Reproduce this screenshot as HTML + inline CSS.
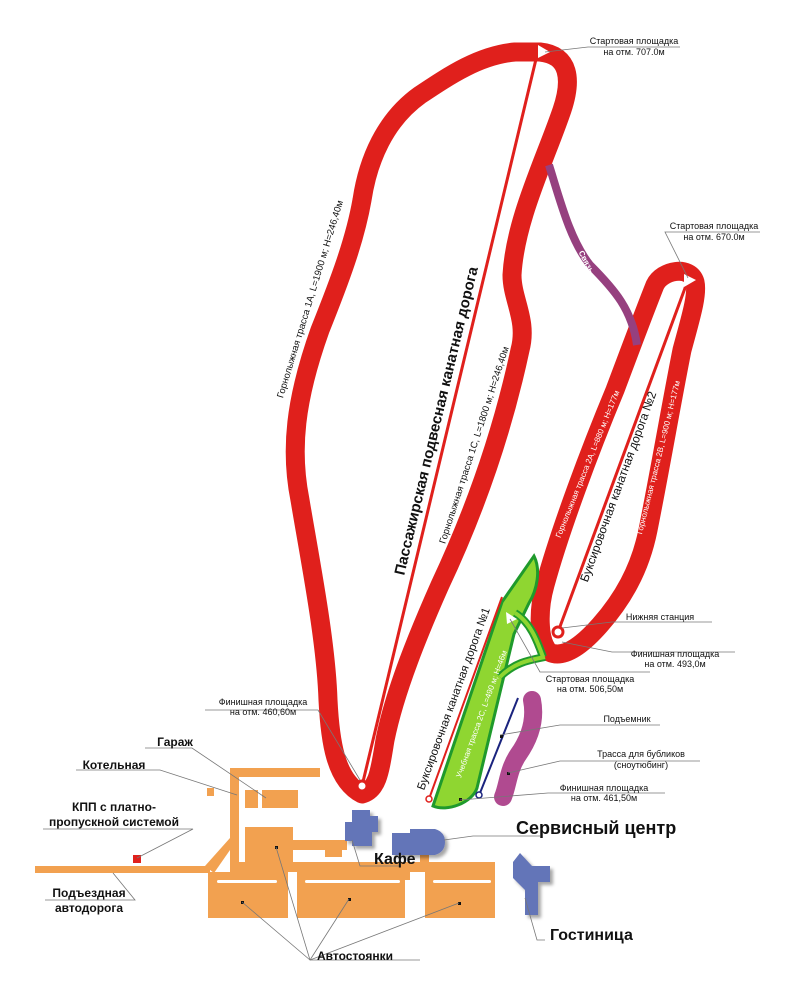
<!DOCTYPE html>
<html><head><meta charset="utf-8"><style>
body{margin:0;background:#fff}
svg{display:block}
text{font-family:"Liberation Sans",sans-serif;fill:#111}
</style></head><body>
<svg width="806" height="1000" viewBox="0 0 806 1000" xmlns="http://www.w3.org/2000/svg">
<defs><filter id="sh" x="-20%" y="-20%" width="150%" height="150%"><feDropShadow dx="3" dy="3" stdDeviation="1.5" flood-color="#000" flood-opacity="0.35"/></filter></defs>
<g fill="#f2a150">
<rect x="35" y="866" width="175" height="7"/>
<polygon points="205,866 230,838 230,850 214,873"/>
<rect x="230" y="768" width="90" height="9"/>
<rect x="230" y="768" width="9" height="100"/>
<rect x="207" y="788" width="7" height="8"/>
<rect x="245" y="790" width="13" height="18"/>
<rect x="262" y="790" width="36" height="18"/>
<rect x="245" y="827" width="48" height="35"/>
<rect x="292" y="840" width="55" height="10"/>
<rect x="325" y="845" width="17" height="12"/>
<rect x="230" y="862" width="265" height="10"/>
<rect x="420" y="848" width="9" height="20"/>
<rect x="208" y="872" width="80" height="46"/>
<rect x="297" y="872" width="108" height="46"/>
<rect x="395" y="872" width="15" height="8"/>
<rect x="425" y="872" width="70" height="46"/>
</g>
<g fill="#fff">
<rect x="217" y="880" width="60" height="3" rx="1.5"/>
<rect x="305" y="880" width="95" height="3" rx="1.5"/>
<rect x="433" y="880" width="58" height="3" rx="1.5"/>
</g>
<g fill="#6474b8" filter="url(#sh)">
<polygon points="352,810 370,810 370,816 378,816 378,832 372,832 372,846 352,846 352,841 345,841 345,822 352,822"/>
<path d="M392 833 h18 v-4 h25 q10 3 10 13 q0 10 -10 13 h-43 z"/>
<polygon points="520,853 532,866 550,866 550,882 538,882 538,915 525,915 525,890 513,878 513,862"/>
</g>
<path d="M362 794 C335 780 330 740 328 700 C326 640 310 560 300 500 C290 450 295 400 320 330 C340 280 355 240 362 200 C368 160 385 120 420 95 C450 75 480 55 515 52 L540 52 C570 55 572 80 562 110 C545 160 515 220 512 275 C512 300 528 320 520 350 C505 420 480 500 440 585 C420 630 395 690 385 740 C380 770 378 790 362 794 Z" fill="none" stroke="#e0201c" stroke-width="19" stroke-linejoin="round"/>
<path d="M549 652 C538 640 538 610 545 585 C560 530 590 450 615 390 C630 350 645 310 655 285 C662 270 690 265 695 282 C698 295 690 320 682 350 C672 400 660 470 648 530 C640 570 622 600 600 625 C585 642 565 660 549 652 Z" fill="none" stroke="#e0201c" stroke-width="19" stroke-linejoin="round"/>
<line x1="362" y1="786" x2="537" y2="55" stroke="#e0201c" stroke-width="3"/>
<line x1="558" y1="632" x2="688" y2="280" stroke="#e0201c" stroke-width="3"/>
<polygon points="538,45 550,52 538,58" fill="#fff"/>
<polygon points="684,274 696,280 684,287" fill="#fff"/>
<circle cx="362" cy="786" r="5" fill="#fff" stroke="#e0201c" stroke-width="3"/>
<circle cx="558" cy="632" r="5" fill="#fff" stroke="#e0201c" stroke-width="3"/>
<path d="M549 165 C560 200 570 240 590 265 C615 290 632 310 637 345" fill="none" stroke="#96407f" stroke-width="8"/>
<text transform="translate(584,263) rotate(62)" font-size="8" font-weight="bold" style="fill:#fff" text-anchor="middle">Связь</text>
<path d="M433 806 L502 602 L534 556 C541 570 537 590 529 603 L514 634 L477 788 C472 803 447 812 433 806 Z" fill="#8fd631" stroke="#1f9a2c" stroke-width="3"/>
<path d="M500 677 C515 662 530 660 545 657 M515 613 C530 622 537 640 543 657" fill="none" stroke="#1f9a2c" stroke-width="8"/>
<path d="M500 677 C515 662 530 660 545 657 M515 613 C530 622 537 640 543 657" fill="none" stroke="#8fd631" stroke-width="4"/>
<polygon points="506,612 517,619 507,624" fill="#fff"/>
<line x1="502" y1="597" x2="429" y2="799" stroke="#e0201c" stroke-width="2"/>
<circle cx="429" cy="799" r="3" fill="#fff" stroke="#e0201c" stroke-width="1.5"/>
<path d="M532 700 C536 720 530 738 518 755 C508 770 508 785 503 797" fill="none" stroke="#b04a90" stroke-width="18" stroke-linecap="round"/>
<line x1="518" y1="698" x2="480" y2="793" stroke="#1a237e" stroke-width="2"/>
<circle cx="479" cy="795" r="3" fill="#fff" stroke="#1a237e" stroke-width="1.5"/>
<g fill="#111"><rect x="133" y="855" width="8" height="8" style="fill:#e0201c"/>
<rect x="459" y="798" width="3" height="3"/><rect x="500" y="735" width="3" height="3"/><rect x="507" y="772" width="3" height="3"/>
<rect x="275" y="846" width="3" height="3"/><rect x="241" y="901" width="3" height="3"/><rect x="348" y="898" width="3" height="3"/><rect x="458" y="902" width="3" height="3"/></g>
<g stroke="#777" stroke-width="0.8" fill="none">
<polyline points="545,52 588,47 680,47"/>
<polyline points="688,278 665,232 760,232"/>
<polyline points="562,628 612,622 712,622"/>
<polyline points="562,642 612,652 735,652"/>
<polyline points="510,619 540,672 650,672"/>
<polyline points="500,735 560,725 660,725"/>
<polyline points="508,773 560,761 700,761"/>
<polyline points="460,800 548,793 665,793"/>
<polyline points="360,780 318,710 205,710"/>
<polyline points="145,748 192,748 266,798"/>
<polyline points="76,770 160,770 237,795"/>
<polyline points="43,829 193,829 137,858"/>
<polyline points="113,873 135,900 45,900"/>
<polyline points="352,840 360,866 400,866"/>
<polyline points="444,840 473,836 540,836"/>
<polyline points="525,898 537,940 545,940"/>
<polyline points="276,847 310,960 345,960 420,960"/>
<line x1="310" y1="960" x2="242" y2="902"/><line x1="310" y1="960" x2="349" y2="899"/><line x1="310" y1="960" x2="459" y2="903"/>
</g>
<g font-size="9" text-anchor="middle">
<text x="634" y="44">Стартовая площадка</text><text x="634" y="55">на отм. 707.0м</text>
<text x="714" y="229">Стартовая площадка</text><text x="714" y="240">на отм. 670.0м</text>
<text x="660" y="620">Нижняя станция</text>
<text x="675" y="657">Финишная площадка</text><text x="675" y="667">на отм. 493,0м</text>
<text x="590" y="682">Стартовая площадка</text><text x="590" y="692">на отм. 506,50м</text>
<text x="627" y="722">Подъемник</text>
<text x="641" y="757">Трасса для бубликов</text><text x="641" y="768">(сноутюбинг)</text>
<text x="604" y="791">Финишная площадка</text><text x="604" y="801">на отм. 461,50м</text>
<text x="263" y="705">Финишная площадка</text><text x="263" y="715">на отм. 460,60м</text>
</g>
<g font-size="12" text-anchor="middle" font-weight="bold">
<text x="175" y="746">Гараж</text>
<text x="114" y="769">Котельная</text>
<text x="114" y="811">КПП с платно-</text><text x="114" y="826">пропускной системой</text>
<text x="89" y="897">Подъездная</text><text x="89" y="912">автодорога</text>
<text x="355" y="960">Автостоянки</text>
</g>
<text x="516" y="834" font-size="18" font-weight="bold">Сервисный центр</text>
<text x="374" y="864" font-size="16" font-weight="bold">Кафе</text>
<text x="550" y="940" font-size="16" font-weight="bold">Гостиница</text>
<text transform="translate(313,300) rotate(-73)" font-size="9.5" text-anchor="middle">Горнолыжная трасса 1А, L=1900 м; H=246,40м</text>
<text transform="translate(441,422) rotate(-76.5)" font-size="15" font-weight="bold" text-anchor="middle">Пассажирская подвесная канатная дорога</text>
<text transform="translate(477,446) rotate(-72)" font-size="9.5" text-anchor="middle">Горнолыжная трасса 1С, L=1800 м; H=246,40м</text>
<text transform="translate(590,465) rotate(-68)" font-size="8" text-anchor="middle" style="fill:#fff">Горнолыжная трасса 2А, L=880 м; H=177м</text>
<text transform="translate(622,488) rotate(-70)" font-size="12" text-anchor="middle">Буксировочная канатная дорога №2</text>
<text transform="translate(661,458) rotate(-76)" font-size="8" text-anchor="middle" style="fill:#fff">Горнолыжная трасса 2В, L=900 м; H=177м</text>
<text transform="translate(457,700) rotate(-70)" font-size="11.5" text-anchor="middle">Буксировочная канатная дорога №1</text>
<text transform="translate(484,715) rotate(-70)" font-size="8" text-anchor="middle" style="fill:#fff">Учебная трасса 2С, L=490 м; H=46м</text>
</svg>
</body></html>
